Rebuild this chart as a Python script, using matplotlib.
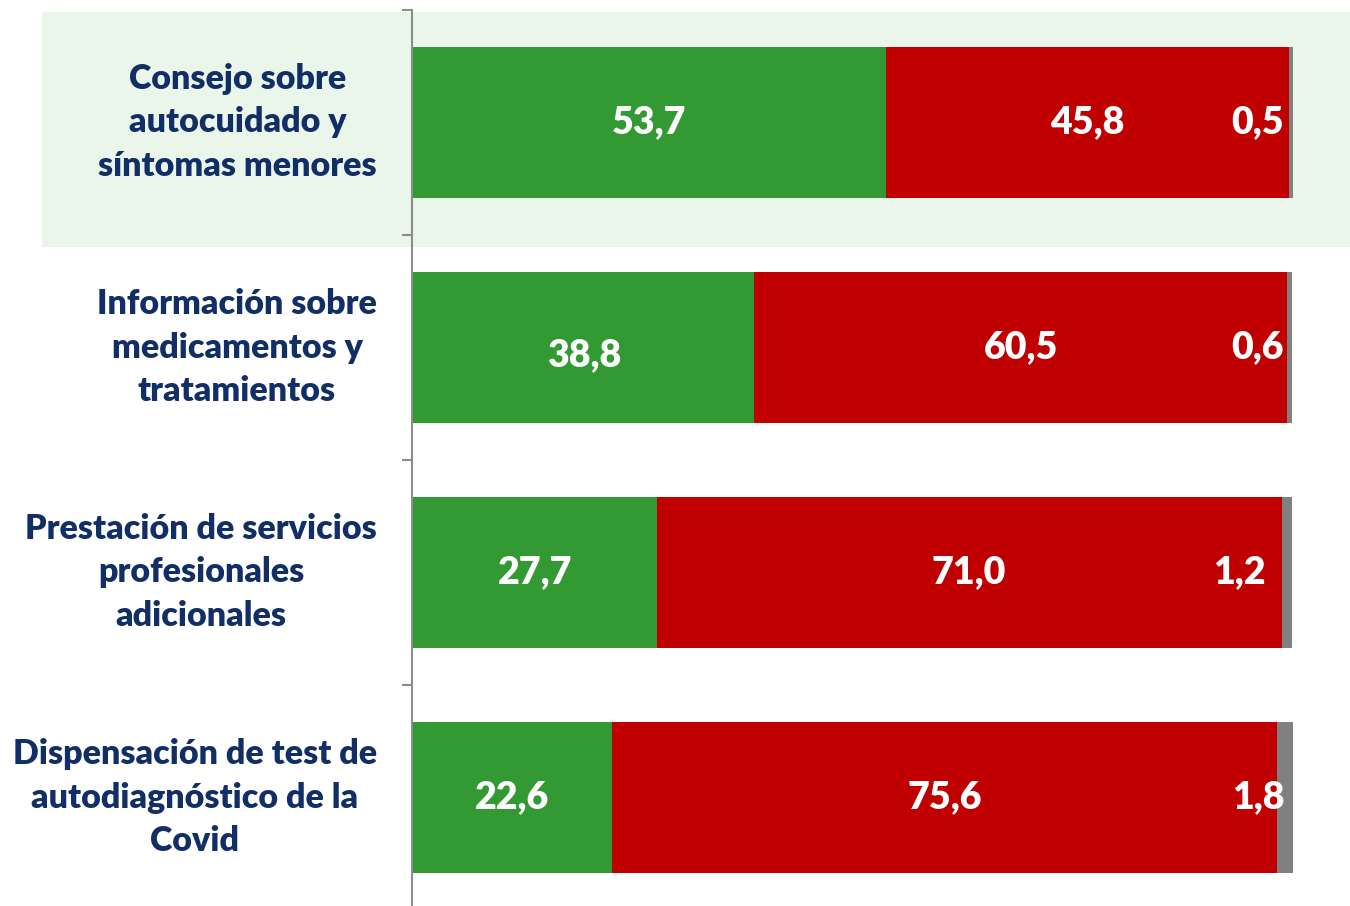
import matplotlib
matplotlib.use("Agg")
import matplotlib.pyplot as plt
from matplotlib.patches import Rectangle

categories = [
    "Consejo sobre\nautocuidado y\nsíntomas menores",
    "Información sobre\nmedicamentos y\ntratamientos",
    "Prestación de servicios\nprofesionales\nadicionales",
    "Dispensación de test de\nautodiagnóstico de la\nCovid",
]
si_vals = [53.7, 38.8, 27.7, 22.6]
no_vals = [45.8, 60.5, 71.0, 75.6]
nsnc_vals = [0.5, 0.6, 1.2, 1.8]

# label placement tweaks (style)
NSNC_LABEL_X = [99.0, 99.0, 96.9, 99.0]
SI_LABEL_DY = [0.0, 0.035, 0.0, 0.0]

GREEN = "#339933"
RED = "#C00000"
GREY = "#808080"
NAVY = "#112E66"
BAND = "#EBF6EA"
FONT = "Lato"

W, H = 1350, 906
fig = plt.figure(figsize=(W / 100, H / 100), dpi=100)
fig.patch.set_facecolor("white")

fig.patches.append(Rectangle((42 / W, 1 - 247 / H), (1350 - 42) / W, (247 - 12) / H,
                             transform=fig.transFigure, facecolor=BAND, edgecolor="none", zorder=0))

ax = fig.add_axes([413 / W, -4 / H, (1293 - 413) / W, 900 / H])
ax.set_facecolor("none")
ax.set_zorder(1)

y = list(range(len(categories)))
ax.barh(y, si_vals, height=0.667, color=GREEN, edgecolor="none")
ax.barh(y, no_vals, left=si_vals, height=0.667, color=RED, edgecolor="none")
left3 = [a + b for a, b in zip(si_vals, no_vals)]
ax.barh(y, nsnc_vals, left=left3, height=0.667, color=GREY, edgecolor="none")

def fmt(v):
    return f"{v:.1f}".replace(".", ",")

VSIZE = 27
for i in y:
    ax.text(si_vals[i] / 2, i + SI_LABEL_DY[i], fmt(si_vals[i]), ha="center", va="center",
            color="white", fontsize=VSIZE, fontweight="heavy", family=FONT)
    ax.text(si_vals[i] + no_vals[i] / 2, i, fmt(no_vals[i]), ha="center", va="center",
            color="white", fontsize=VSIZE, fontweight="heavy", family=FONT)
    ax.text(NSNC_LABEL_X[i], i, fmt(nsnc_vals[i]), ha="right", va="center",
            color="white", fontsize=VSIZE, fontweight="heavy", family=FONT)

ax.set_xlim(0, 100)
ax.set_ylim(len(categories) - 0.5, -0.5)
ax.set_xticks([])
ax.set_yticks([i - 0.5 for i in range(len(categories) + 1)])
ax.set_yticklabels([])
ax.tick_params(axis="y", length=7.2, width=1.5, color="#8C8C8C", direction="out")
for s in ["top", "right", "bottom"]:
    ax.spines[s].set_visible(False)
ax.spines["left"].set_color("#8C8C8C")
ax.spines["left"].set_linewidth(1.5)
ax.spines["left"].set_position(("outward", 1))

for i, lab in enumerate(categories):
    ax.annotate(lab, xy=(0, i), xycoords=("axes fraction", "data"),
                xytext=(-36 / 100 * 72, 0), textcoords="offset points",
                ha="right", va="center", multialignment="center",
                color=NAVY, fontsize=24.5, fontweight="heavy", family=FONT,
                linespacing=1.45)

fig.savefig("out.png", dpi=100)
